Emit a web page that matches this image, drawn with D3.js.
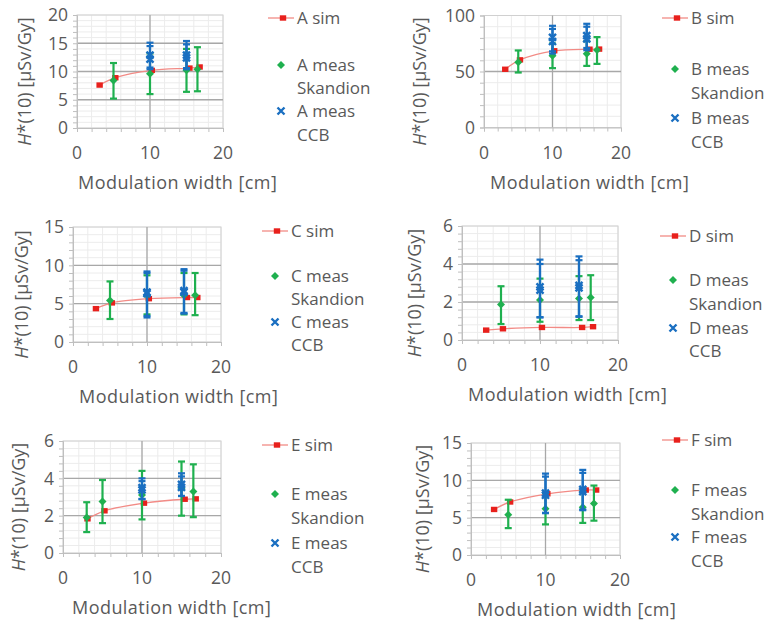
<!DOCTYPE html>
<html>
<head>
<meta charset="utf-8">
<script src="https://cdn.jsdelivr.net/npm/d3@7"></script>
<style>
  body { margin: 0; background: #fff; }
  text { font-family: "Open Sans", sans-serif; fill: #595959; }
</style>
</head>
<body>
<svg id="chart" width="768" height="623"></svg>
<script>
// ---- data ----
const panelNames = ["A", "B", "C", "D", "E", "F"];
const xTickValues = [0, 10, 20];
const yMaxima = [20, 100, 15, 6, 6, 15];
const yMajorSteps = [5, 50, 5, 2, 2, 5];

// simulated dose equivalent, one value per modulation width
const simX = [3.1, 5.25, 10.25, 15.4, 16.8];
const simA = [7.6, 8.9, 10.2, 10.6, 10.8];
const simB = [52.0, 60.4, 68.5, 69.9, 70.0];
const simC = [4.35, 5.1, 5.65, 5.8, 5.8];
const simD = [0.52, 0.59, 0.66, 0.66, 0.70];
const simE = [1.83, 2.26, 2.67, 2.88, 2.9];
const simF = [6.1, 7.1, 8.2, 8.7, 8.7];

// Skandion measurements: [width, value, lower, upper]
const skandionA = [[5, 8.4, 5.2, 11.5], [10, 9.6, 6.0, 13.2], [15, 10.2, 6.4, 14.0], [16.5, 10.4, 6.5, 14.3]];
const skandionB = [[5, 58.3, 49.1, 68.8], [10, 64.0, 53.0, 75.0], [15, 65.8, 55.0, 77.0], [16.5, 69.3, 56.8, 80.7]];
const skandionC = [[5, 5.4, 3.0, 7.9], [10, 6.1, 3.6, 8.7], [15, 6.1, 3.6, 9.0], [16.5, 6.1, 3.5, 9.0]];
const skandionD = [[5, 1.87, 0.84, 2.83], [10, 2.1, 0.96, 3.23], [15, 2.19, 1.05, 3.36], [16.5, 2.24, 1.05, 3.41]];
const skandionE = [[3, 1.9, 1.12, 2.72], [5, 2.76, 1.6, 3.91], [10, 3.11, 1.8, 4.4], [15, 3.47, 2.0, 4.9], [16.5, 3.3, 1.92, 4.75]];
const skandionF = [[5, 5.4, 3.6, 7.4], [10, 6.2, 4.1, 8.3], [15, 6.4, 4.3, 8.5], [16.5, 6.9, 4.6, 9.3]];

// CCB measurements: [width, value, lower, upper]
const ccbA = [[10, 12.9, 10.7, 15.1], [10, 12.2, 10.4, 14.5], [15, 12.9, 10.6, 15.4], [15, 12.4, 10.4, 14.8]];
const ccbB = [[10, 80.4, 68.0, 90.8], [10, 76.8, 66.0, 88.0], [15, 82.1, 71.0, 92.6], [15, 79.2, 69.0, 90.0]];
const ccbC = [[10, 6.5, 3.2, 9.2], [10, 6.3, 3.4, 9.0], [15, 6.7, 3.8, 9.5], [15, 6.5, 3.7, 9.3]];
const ccbD = [[10, 2.8, 1.19, 4.23], [10, 2.62, 1.2, 4.0], [15, 2.88, 1.22, 4.4], [15, 2.74, 1.25, 4.2]];
const ccbE = [[10, 3.5, 2.88, 4.0], [10, 3.38, 2.9, 3.85], [15, 3.68, 3.06, 4.27], [15, 3.52, 3.05, 4.1]];
const ccbF = [[10, 8.3, 5.65, 10.9], [10, 8.0, 5.6, 10.5], [15, 8.8, 6.1, 11.4], [15, 8.5, 6.0, 11.0]];

const simSeries = [simA, simB, simC, simD, simE, simF];
const skandionSeries = [skandionA, skandionB, skandionC, skandionD, skandionE, skandionF];
const ccbSeries = [ccbA, ccbB, ccbC, ccbD, ccbE, ccbF];

// ---- layout of the six small charts ----
const frames = [
  { l: 77,  t: 15,  w: 146, h: 113, yt: 25,  xt: 78,  lx: 268, ly: [18, 65, 88, 111, 135] },
  { l: 484, t: 15.5, w: 137, h: 112, yt: 420, xt: 490, lx: 662, ly: [18, 69, 93, 118, 142] },
  { l: 73,  t: 227, w: 148, h: 115, yt: 22,  xt: 79,  lx: 262, ly: [231, 276, 299, 322, 345] },
  { l: 462, t: 226, w: 156, h: 114, yt: 415, xt: 468, lx: 660, ly: [236, 280, 304, 328, 351] },
  { l: 63,  t: 441, w: 158, h: 112, yt: 19,  xt: 72,  lx: 262, ly: [445, 494, 518, 543, 567] },
  { l: 471, t: 443, w: 149, h: 112, yt: 423, xt: 477, lx: 662, ly: [440, 490, 514, 537, 561] }
];

const RED = "#e8201c", RED_LINE = "#f28b86", GREEN = "#1fb04f", BLUE = "#1a6fc1";
const svg = d3.select("#chart");

function drawGreenMarker(g, cx, cy) {
  g.append("path")
    .attr("d", `M${cx},${cy - 4}L${cx + 4},${cy}L${cx},${cy + 4}L${cx - 4},${cy}Z`)
    .attr("fill", GREEN);
}
function drawBlueMarker(g, cx, cy) {
  g.append("path")
    .attr("d", `M${cx - 3.5},${cy - 3.5}L${cx + 3.5},${cy + 3.5}M${cx - 3.5},${cy + 3.5}L${cx + 3.5},${cy - 3.5}`)
    .attr("stroke", BLUE).attr("stroke-width", 2.4).attr("fill", "none");
}
function drawRedMarker(g, cx, cy) {
  g.append("rect").attr("x", cx - 3.2).attr("y", cy - 2.7).attr("width", 6.4).attr("height", 5.4).attr("fill", RED);
}

panelNames.forEach((name, i) => {
  const f = frames[i];
  const x = d3.scaleLinear().domain([0, 20]).range([f.l, f.l + f.w]);
  const y = d3.scaleLinear().domain([0, yMaxima[i]]).range([f.t + f.h, f.t]);
  const minorY = d3.range(0, yMaxima[i] + 1e-9, yMajorSteps[i] / 5);
  const majorY = d3.range(0, yMaxima[i] + 1e-9, yMajorSteps[i]);
  const minorX = d3.range(0, 20.001, 2);
  const g = svg.append("g");

  // minor gridlines
  g.append("g").selectAll("line").data(minorY).join("line")
    .attr("x1", f.l).attr("x2", f.l + f.w).attr("y1", d => y(d)).attr("y2", d => y(d))
    .attr("stroke", "#ececec").attr("stroke-width", 1);
  g.append("g").selectAll("line").data(minorX).join("line")
    .attr("y1", f.t).attr("y2", f.t + f.h).attr("x1", d => x(d)).attr("x2", d => x(d))
    .attr("stroke", "#ececec").attr("stroke-width", 1);

  // plot border
  g.append("rect").attr("x", f.l).attr("y", f.t).attr("width", f.w).attr("height", f.h)
    .attr("fill", "none").attr("stroke", "#d0d0d0").attr("stroke-width", 1);

  // major gridlines
  g.append("g").selectAll("line").data(majorY.filter(v => v > 0 && v < yMaxima[i])).join("line")
    .attr("x1", f.l).attr("x2", f.l + f.w).attr("y1", d => y(d)).attr("y2", d => y(d))
    .attr("stroke", "#a8a8a8").attr("stroke-width", 1.3);
  g.append("line").attr("x1", x(10)).attr("x2", x(10)).attr("y1", f.t).attr("y2", f.t + f.h)
    .attr("stroke", "#a8a8a8").attr("stroke-width", 1.3);

  // axes
  const yAxis = d3.axisLeft(y).tickValues(minorY).tickSize(4).tickFormat("");
  const xAxis = d3.axisBottom(x).tickValues(minorX).tickSize(4).tickFormat("");
  const ya = g.append("g").attr("transform", `translate(${f.l},0)`).call(yAxis);
  const xa = g.append("g").attr("transform", `translate(0,${f.t + f.h})`).call(xAxis);
  [ya, xa].forEach(a => {
    a.selectAll("path").attr("stroke", "#bfbfbf");
    a.selectAll("line").attr("stroke", "#bfbfbf");
  });

  // tick labels
  g.append("g").selectAll("text").data(majorY).join("text")
    .attr("x", f.l - 9).attr("y", d => y(d)).attr("dy", "0.36em")
    .attr("text-anchor", "end").attr("font-size", 17.5).text(d => d3.format("d")(d));
  g.append("g").selectAll("text").data(xTickValues).join("text")
    .attr("x", d => x(d)).attr("y", f.t + f.h + 25).attr("dy", "0.36em")
    .attr("text-anchor", "middle").attr("font-size", 17.5).text(d => d);

  // axis titles
  g.append("text").attr("x", f.xt).attr("y", f.t + f.h + 55).attr("dy", "0.36em")
    .attr("font-size", 18).attr("letter-spacing", 0.45).text("Modulation width [cm]");
  const yt = g.append("text")
    .attr("transform", `translate(${f.yt},${f.t + f.h / 2 + 10}) rotate(-90)`)
    .attr("text-anchor", "middle").attr("dy", "0.36em").attr("font-size", 18);
  yt.append("tspan").attr("font-style", "italic").text("H");
  yt.append("tspan").text("*(10) [µSv/Gy]");

  // simulation curve
  const sim = simSeries[i].map((v, k) => [simX[k], v]);
  g.append("path")
    .attr("d", d3.line().x(d => x(d[0])).y(d => y(d[1])).curve(d3.curveCatmullRom.alpha(0.5))(sim))
    .attr("fill", "none").attr("stroke", RED_LINE).attr("stroke-width", 1.3);
  sim.forEach(d => drawRedMarker(g, x(d[0]), y(d[1])));

  // measured points with error bars
  function drawMeasured(rows, color, marker) {
    rows.forEach(r => {
      const cx = x(r[0]);
      const eg = g.append("g").attr("stroke", color).attr("stroke-width", 2.2).attr("fill", "none");
      eg.append("line").attr("x1", cx).attr("x2", cx).attr("y1", y(r[2])).attr("y2", y(r[3]));
      eg.append("line").attr("x1", cx - 3.5).attr("x2", cx + 3.5).attr("y1", y(r[2])).attr("y2", y(r[2]));
      eg.append("line").attr("x1", cx - 3.5).attr("x2", cx + 3.5).attr("y1", y(r[3])).attr("y2", y(r[3]));
    });
    rows.forEach(r => marker(g, x(r[0]), y(r[1])));
  }
  drawMeasured(skandionSeries[i], GREEN, drawGreenMarker);
  drawMeasured(ccbSeries[i], BLUE, drawBlueMarker);

  // legend
  const lg = svg.append("g");
  lg.append("line").attr("x1", f.lx).attr("x2", f.lx + 26).attr("y1", f.ly[0]).attr("y2", f.ly[0])
    .attr("stroke", RED_LINE).attr("stroke-width", 1.3);
  drawRedMarker(lg, f.lx + 15, f.ly[0]);
  drawGreenMarker(lg, f.lx + 13, f.ly[1]);
  drawBlueMarker(lg, f.lx + 13, f.ly[3]);
  const labels = [`${name} sim`, `${name} meas`, "Skandion", `${name} meas`, "CCB"];
  labels.forEach((t, k) => {
    lg.append("text").attr("x", f.lx + 29).attr("y", f.ly[k]).attr("dy", "0.36em")
      .attr("font-size", 17).text(t);
  });
});
</script>
</body>
</html>
